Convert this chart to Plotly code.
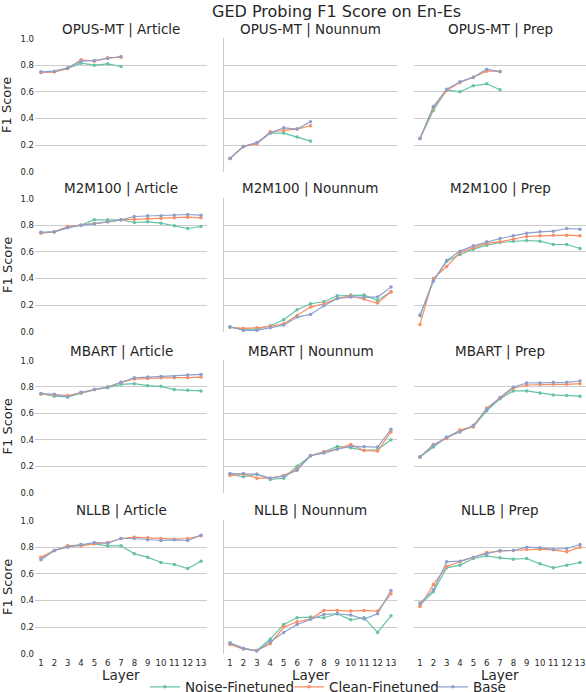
import plotly.graph_objects as go

# layers on the x axis
layers = list(range(1, 14))
models = ["OPUS-MT", "M2M100", "MBART", "NLLB"]
tasks = ["Article", "Nounnum", "Prep"]
series = ["Noise-Finetuned", "Clean-Finetuned", "Base"]
colors = ["#66c2a5", "#fc8d62", "#8da0cb"]

# OPUS-MT (only 7 layers)
opus_article_noise = [0.745, 0.75, 0.775, 0.815, 0.80, 0.81, 0.79]
opus_article_clean = [0.745, 0.75, 0.775, 0.84, 0.83, 0.855, 0.86]
opus_article_base = [0.75, 0.755, 0.78, 0.83, 0.835, 0.85, 0.865]
opus_nounnum_noise = [0.10, 0.19, 0.21, 0.29, 0.29, 0.26, 0.23]
opus_nounnum_clean = [0.10, 0.19, 0.21, 0.30, 0.31, 0.32, 0.345]
opus_nounnum_base = [0.10, 0.19, 0.22, 0.29, 0.33, 0.32, 0.375]
opus_prep_noise = [0.25, 0.46, 0.615, 0.60, 0.645, 0.66, 0.615]
opus_prep_clean = [0.25, 0.48, 0.61, 0.67, 0.71, 0.755, 0.755]
opus_prep_base = [0.25, 0.49, 0.62, 0.675, 0.71, 0.77, 0.75]

# M2M100
m2m_article_noise = [0.745, 0.75, 0.785, 0.80, 0.84, 0.84, 0.84, 0.82, 0.825, 0.815, 0.795, 0.775, 0.79]
m2m_article_clean = [0.74, 0.75, 0.79, 0.80, 0.81, 0.825, 0.84, 0.845, 0.85, 0.85, 0.855, 0.86, 0.855]
m2m_article_base = [0.746, 0.75, 0.78, 0.80, 0.81, 0.825, 0.84, 0.865, 0.87, 0.87, 0.875, 0.88, 0.875]
m2m_nounnum_noise = [0.035, 0.02, 0.02, 0.045, 0.09, 0.165, 0.21, 0.225, 0.27, 0.275, 0.275, 0.235, 0.30]
m2m_nounnum_clean = [0.033, 0.025, 0.03, 0.04, 0.06, 0.12, 0.185, 0.21, 0.25, 0.27, 0.245, 0.215, 0.30]
m2m_nounnum_base = [0.0375, 0.01, 0.01, 0.03, 0.05, 0.11, 0.13, 0.195, 0.25, 0.26, 0.26, 0.26, 0.335]
m2m_prep_noise = [0.12, 0.38, 0.53, 0.58, 0.62, 0.65, 0.67, 0.68, 0.685, 0.68, 0.655, 0.655, 0.625]
m2m_prep_clean = [0.055, 0.40, 0.49, 0.595, 0.63, 0.665, 0.675, 0.695, 0.715, 0.72, 0.725, 0.725, 0.72]
m2m_prep_base = [0.125, 0.38, 0.535, 0.605, 0.645, 0.675, 0.70, 0.72, 0.74, 0.75, 0.755, 0.775, 0.77]

# MBART
mbart_article_noise = [0.75, 0.73, 0.725, 0.755, 0.78, 0.795, 0.82, 0.825, 0.81, 0.805, 0.78, 0.775, 0.77]
mbart_article_clean = [0.745, 0.74, 0.735, 0.755, 0.78, 0.80, 0.835, 0.86, 0.865, 0.87, 0.87, 0.87, 0.875]
mbart_article_base = [0.75, 0.745, 0.725, 0.76, 0.78, 0.80, 0.835, 0.87, 0.875, 0.88, 0.88, 0.89, 0.895]
mbart_nounnum_noise = [0.14, 0.12, 0.14, 0.10, 0.11, 0.20, 0.28, 0.31, 0.35, 0.34, 0.32, 0.325, 0.40]
mbart_nounnum_clean = [0.13, 0.14, 0.11, 0.11, 0.13, 0.18, 0.28, 0.31, 0.33, 0.365, 0.32, 0.315, 0.46]
mbart_nounnum_base = [0.145, 0.145, 0.14, 0.11, 0.125, 0.17, 0.28, 0.30, 0.33, 0.35, 0.35, 0.345, 0.48]
mbart_prep_noise = [0.27, 0.345, 0.42, 0.47, 0.50, 0.62, 0.71, 0.77, 0.77, 0.755, 0.74, 0.735, 0.73]
mbart_prep_clean = [0.27, 0.365, 0.41, 0.475, 0.50, 0.64, 0.715, 0.79, 0.815, 0.82, 0.82, 0.82, 0.825]
mbart_prep_base = [0.27, 0.36, 0.42, 0.46, 0.51, 0.63, 0.72, 0.80, 0.83, 0.83, 0.835, 0.835, 0.845]

# NLLB
nllb_article_noise = [0.715, 0.775, 0.81, 0.82, 0.825, 0.81, 0.81, 0.75, 0.725, 0.685, 0.67, 0.64, 0.695]
nllb_article_clean = [0.725, 0.775, 0.81, 0.81, 0.825, 0.835, 0.865, 0.875, 0.87, 0.865, 0.86, 0.865, 0.885]
nllb_article_base = [0.705, 0.775, 0.80, 0.82, 0.835, 0.83, 0.865, 0.865, 0.855, 0.85, 0.855, 0.85, 0.89]
nllb_nounnum_noise = [0.08, 0.04, 0.025, 0.11, 0.22, 0.27, 0.275, 0.27, 0.30, 0.255, 0.27, 0.16, 0.285]
nllb_nounnum_clean = [0.07, 0.035, 0.025, 0.075, 0.20, 0.24, 0.26, 0.325, 0.325, 0.32, 0.325, 0.32, 0.45]
nllb_nounnum_base = [0.08, 0.04, 0.02, 0.09, 0.16, 0.22, 0.26, 0.295, 0.30, 0.29, 0.26, 0.30, 0.475]
nllb_prep_noise = [0.365, 0.465, 0.645, 0.665, 0.715, 0.735, 0.72, 0.71, 0.715, 0.675, 0.645, 0.665, 0.685]
nllb_prep_clean = [0.355, 0.52, 0.655, 0.69, 0.72, 0.76, 0.77, 0.775, 0.785, 0.785, 0.78, 0.765, 0.80]
nllb_prep_base = [0.38, 0.48, 0.69, 0.695, 0.725, 0.75, 0.775, 0.775, 0.80, 0.795, 0.785, 0.79, 0.82]

panel_data = {
    ("OPUS-MT", "Article"): [opus_article_noise, opus_article_clean, opus_article_base],
    ("OPUS-MT", "Nounnum"): [opus_nounnum_noise, opus_nounnum_clean, opus_nounnum_base],
    ("OPUS-MT", "Prep"): [opus_prep_noise, opus_prep_clean, opus_prep_base],
    ("M2M100", "Article"): [m2m_article_noise, m2m_article_clean, m2m_article_base],
    ("M2M100", "Nounnum"): [m2m_nounnum_noise, m2m_nounnum_clean, m2m_nounnum_base],
    ("M2M100", "Prep"): [m2m_prep_noise, m2m_prep_clean, m2m_prep_base],
    ("MBART", "Article"): [mbart_article_noise, mbart_article_clean, mbart_article_base],
    ("MBART", "Nounnum"): [mbart_nounnum_noise, mbart_nounnum_clean, mbart_nounnum_base],
    ("MBART", "Prep"): [mbart_prep_noise, mbart_prep_clean, mbart_prep_base],
    ("NLLB", "Article"): [nllb_article_noise, nllb_article_clean, nllb_article_base],
    ("NLLB", "Nounnum"): [nllb_nounnum_noise, nllb_nounnum_clean, nllb_nounnum_base],
    ("NLLB", "Prep"): [nllb_prep_noise, nllb_prep_clean, nllb_prep_base],
}

W, H = 586, 692
ML, MR, MT, MB = 35, 0, 38, 38
PW, PH = W - ML - MR, H - MT - MB


def px2x(px):
    return (px - ML) / PW


def py2y(py):
    return (H - MB - py) / PH


col_px = [(35, 207), (224, 397), (414, 586)]
row_px = [(38, 172), (198, 332), (360, 493), (520, 654)]

FONT = "DejaVu Sans"
TXT = "#262626"
GRID = "#cccccc"

fig = go.Figure()
annotations = []

for r, model in enumerate(models):
    for c, task in enumerate(tasks):
        idx = r * 3 + c + 1
        xa = "x" if idx == 1 else f"x{idx}"
        ya = "y" if idx == 1 else f"y{idx}"
        for s, name in enumerate(series):
            vals = panel_data[(model, task)][s]
            fig.add_trace(go.Scatter(
                x=layers[:len(vals)], y=vals, mode="lines+markers",
                name=name, legendgroup=name, showlegend=(idx == 1),
                line=dict(color=colors[s], width=1.2),
                marker=dict(color=colors[s], size=3.5),
                xaxis=xa, yaxis=ya,
            ))
        x0, x1 = col_px[c]
        y0, y1 = row_px[r]
        bottom = r == len(models) - 1
        fig.layout[f"xaxis{'' if idx == 1 else idx}"] = dict(
            domain=[px2x(x0), px2x(x1)], anchor=ya, range=[0.55, 13.45],
            tickvals=layers, showticklabels=bottom, showgrid=False, tickangle=0,
            zeroline=False, ticks="", ticklabelstandoff=2,
            tickfont=dict(size=8.5, color=TXT, family=FONT),
        )
        fig.layout[f"yaxis{'' if idx == 1 else idx}"] = dict(
            domain=[py2y(y1), py2y(y0)], anchor=xa, range=[-0.002, 1.004],
            tickvals=[0, 0.2, 0.4, 0.6, 0.8, 1.0], ticktext=["0.0", "0.2", "0.4", "0.6", "0.8", "1.0"],
            showticklabels=(c == 0), showgrid=True, gridcolor=GRID, gridwidth=1,
            zeroline=False, ticks="", showline=(c == 1), linecolor=GRID, linewidth=1,
            tickfont=dict(size=8.5, color=TXT, family=FONT),
        )
        annotations.append(dict(
            text=f"{model} | {task}", xref="paper", yref="paper",
            x=px2x((x0 + x1) / 2), y=py2y(y0 - 9), xanchor="center", yanchor="middle",
            showarrow=False, font=dict(size=13.5, color=TXT, family=FONT),
        ))
        if c == 0:
            annotations.append(dict(
                text="F1 Score", xref="paper", yref="paper", textangle=-90,
                x=px2x(7), y=py2y((y0 + y1) / 2), xanchor="center", yanchor="middle",
                showarrow=False, font=dict(size=13, color=TXT, family=FONT),
            ))
        if bottom:
            annotations.append(dict(
                text="Layer", xref="paper", yref="paper",
                x=px2x((x0 + x1) / 2), y=py2y(675), xanchor="center", yanchor="middle",
                showarrow=False, font=dict(size=13.5, color=TXT, family=FONT),
            ))

annotations.append(dict(
    text="GED Probing F1 Score on En-Es", xref="paper", yref="paper",
    x=px2x(336), y=py2y(11), xanchor="center", yanchor="middle",
    showarrow=False, font=dict(size=16, color=TXT, family=FONT),
))

fig.update_layout(
    width=W, height=H,
    margin=dict(l=ML, r=MR, t=MT, b=MB, autoexpand=False),
    paper_bgcolor="white", plot_bgcolor="white",
    annotations=annotations,
    font=dict(family=FONT, color=TXT),
    legend=dict(
        orientation="h", xref="paper", yref="paper",
        x=px2x(145), y=py2y(687), xanchor="left", yanchor="middle",
        font=dict(size=13.5, color=TXT, family=FONT),
        entrywidth=99, entrywidthmode="pixels",
        bgcolor="rgba(0,0,0,0)", itemwidth=30,
    ),
)

# drop the default page margin so the figure sits at the window corner
fig.write_html("out.html", config={"displayModeBar": False},
               post_script="document.body.style.margin='0';")
